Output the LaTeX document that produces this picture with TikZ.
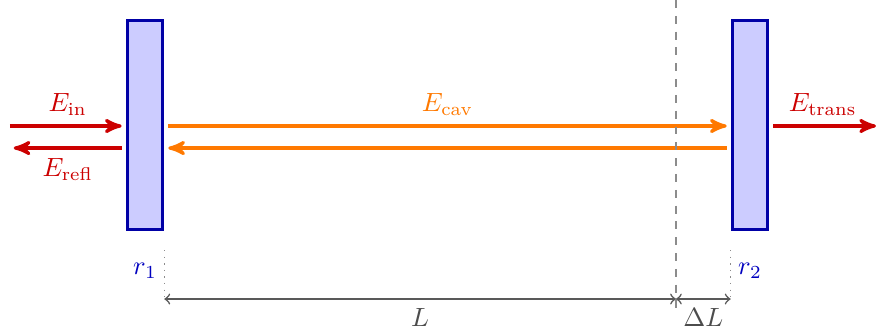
\documentclass[tikz,border=0pt]{standalone}
\usepackage{amsmath,amssymb}
\usetikzlibrary{positioning, arrows}

\begin{document}
\begin{tikzpicture}[mirror/.style={draw=blue!65!black,fill=blue!20,line width=1.3pt,
			minimum width=0.47cm,minimum height=2.79cm,inner sep=0pt},
		beam/.style={->,>=stealth',line width=1.2pt,shorten >=1.5pt,shorten <=1.5pt},
		dim/.style={<->,>=to,black!65,line width=0.6pt},
		guide/.style={black!45,dotted,line width=0.5pt}]
	\useasboundingbox (0,0) rectangle (11.68,4.427);
			\node[mirror] (m1) at (1.933,2.76) {};
			\node[mirror] (m2) at (10.0,2.76) {};
			\node[blue!75!black,below=0.3cm of m1] (r1) {$r_1$};
			\node[blue!75!black,below=0.3cm of m2] (r2) {$r_2$};
			\coordinate (src) at (0.13,2.747);
			\coordinate (ret) at (0.13,2.453);
			\coordinate (out) at (11.68,2.747);
			\coordinate (nom) at (9.013,4.427);
			\coordinate (nomb) at (9.013,0.25);
			% beams
			\draw[beam,red!80!black,shorten <=0pt] (src) -- node[above] {$E_{\text{in}}$} (src -| m1.west);
			\draw[beam,red!80!black] (ret -| m1.west) -- node[below] {$E_{\text{refl}}$} (ret);
			\draw[beam,orange!95!red] (m1.east |- src) -- node[above] {$E_{\text{cav}}$} (m2.west |- src);
			\draw[beam,orange!95!red] (m2.west |- ret) -- (m1.east |- ret);
			\draw[beam,red!80!black,shorten >=0pt] (m2.east |- src) -- node[above] {$E_{\text{trans}}$} (out);
			% lengths
			\draw[black!45,dashed,line width=0.5pt] (nom) -- (nomb);
			\draw[guide] (m1.east |- 0,1.093) -- (m1.east |- 0,0.427);
			\draw[guide] (m2.west |- 0,1.093) -- (m2.west |- 0,0.427);
			\draw[dim] (m1.east |- 0,0.44) -- node[below,black!70] {$L$} (nom |- 0,0.44);
			\draw[dim] (nom |- 0,0.44) -- node[below,black!70] {$\Delta L$} (m2.west |- 0,0.44);
	\end{tikzpicture}
\end{document}
